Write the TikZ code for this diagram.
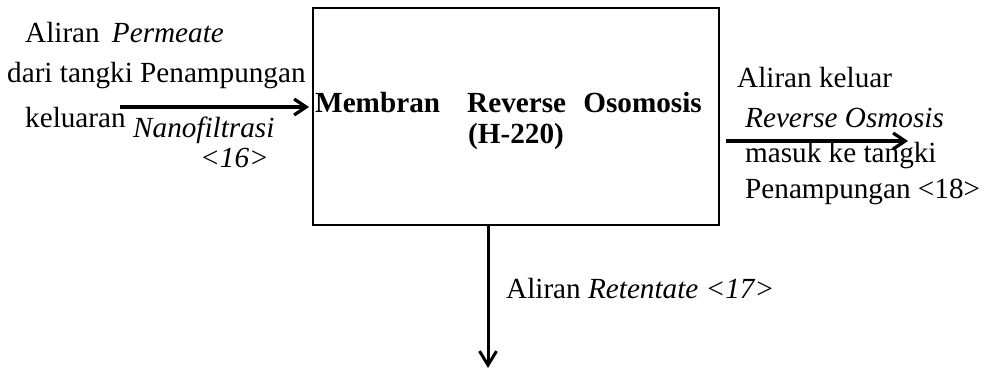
\documentclass[tikz,border=0pt]{standalone}
\usepackage{fontspec}
\setmainfont{Liberation Serif}
\usetikzlibrary{arrows.meta}
\begin{document}
\begin{tikzpicture}[x=1pt,y=-1pt,
  txt/.style={anchor=base west,inner sep=0pt,font=\fontsize{29.2}{34}\selectfont},
  btxt/.style={txt,font=\fontsize{29.2}{34}\selectfont\bfseries},
  flow/.style={line width=3.6pt,-{Straight Barb[length=12pt,width=16pt,line width=3.2pt]}},
  vflow/.style={line width=3pt,-{Straight Barb[length=14pt,width=17pt,line width=3pt]}}]
\useasboundingbox (0,0) rectangle (994,369);
\node[draw,line width=2.2pt,minimum width=406pt,minimum height=217pt,anchor=north west,inner sep=0pt] (box) at (312,7) {};
% inside text
\node[btxt] (t1) at (315,112) {Membran};
\node[btxt] (t2) at (467,112) {Reverse};
\node[btxt,anchor=base east] (t3) at (702,112) {Osomosis};
\node[btxt] (t4) at (468,143) {(H-220)};
% left texts
\node[txt] (l1) at (25,43) {Aliran \,\textit{Permeate}};
\node[txt] (l2) at (7,82) {dari tangki Penampungan};
\node[txt] (l3) at (25,128) {keluaran};
\node[txt] (l4) at (133,137) {\textit{Nanofiltrasi}};
\node[txt] (l5) at (200,167) {\textit{<16>}};
% right texts
\node[txt] (r1) at (737,88) {Aliran keluar};
\node[txt] (r2) at (745,128) {\textit{Reverse Osmosis}};
\node[txt] (r3) at (745,162) {masuk ke tangki};
\node[txt] (r4) at (745,198) {Penampungan <18>};
% bottom text
\node[txt] (b1) at (506,298) {Aliran \textit{Retentate <17>}};
% arrows
\coordinate (in) at (120,107);
\coordinate (out) at (908,141);
\coordinate (down) at (488,368);
\draw[flow] (in) -- ([xshift=-3pt]box.west |- in);
\draw[flow] ([xshift=6pt]box.east |- out) -- (out);
\draw[vflow] (box.south -| down) -- (down);
\end{tikzpicture}
\end{document}
